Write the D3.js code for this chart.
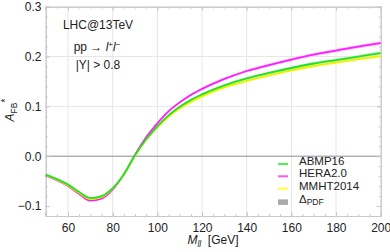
<!DOCTYPE html>
<html>
<head>
<meta charset="utf-8">
<script src="https://cdn.jsdelivr.net/npm/d3@7"></script>
<style>
  body { margin: 0; background: #fff; }
  text { font-family: "Liberation Sans", Arial, sans-serif; fill: #222; }
</style>
</head>
<body>
<div id="chart"></div>
<script>
const W = 390, H = 252;

// invariant mass of the lepton pair [GeV]
const mass = [50, 55, 60, 65, 70, 75, 80, 85, 90, 95, 100, 105, 110, 115, 120, 130, 140, 150, 160, 170, 180, 190, 200];
const abmp16 = [-0.037, -0.046, -0.057, -0.072, -0.084, -0.080, -0.064, -0.036, 0.002, 0.034, 0.060, 0.082, 0.099, 0.113, 0.124, 0.142, 0.156, 0.167, 0.177, 0.186, 0.193, 0.200, 0.207];
const hera20 = [-0.039, -0.048, -0.060, -0.076, -0.089, -0.085, -0.067, -0.037, 0.003, 0.038, 0.066, 0.090, 0.108, 0.123, 0.135, 0.155, 0.171, 0.183, 0.194, 0.204, 0.212, 0.220, 0.227];
const mmht2014 = [-0.038, -0.047, -0.059, -0.074, -0.086, -0.082, -0.065, -0.037, 0.001, 0.033, 0.058, 0.079, 0.096, 0.109, 0.120, 0.138, 0.151, 0.162, 0.172, 0.181, 0.188, 0.195, 0.201];
// half width of the PDF uncertainty band
const pdfErr = [0.0015, 0.0015, 0.0015, 0.0015, 0.0015, 0.0015, 0.0015, 0.0015, 0.0015, 0.0018, 0.002, 0.002, 0.0022, 0.0024, 0.0025, 0.0026, 0.0027, 0.0028, 0.003, 0.003, 0.0032, 0.0033, 0.0035];

const xTicks = [60, 80, 100, 120, 140, 160, 180, 200];
const yTicks = [-0.1, 0.0, 0.1, 0.2, 0.3];

const series = [
  {name: "HERA2.0", values: hera20, line: "#ff1cff", band: "#ffb8ff", key: "#ff55ff"},
  {name: "MMHT2014", values: mmht2014, line: "#eeee00", band: "#ffffa8", key: "#ffff33"},
  {name: "ABMP16", values: abmp16, line: "#22e022", band: "#b4f5b4", key: "#55ee55"}
];
const legendOrder = ["ABMP16", "HERA2.0", "MMHT2014"];

const x = d3.scaleLinear().domain([50, 200]).range([45.7, 380.7]);
const y = d3.scaleLinear().domain([-0.12, 0.3]).range([216, 6.7]);

const svg = d3.select("#chart").append("svg")
  .attr("width", W)
  .attr("height", H);

const frame = "#c8c8c8";

// grid
svg.append("g").selectAll("line")
  .data(xTicks.filter((t) => t < 200))
  .enter().append("line")
  .attr("x1", (d) => x(d)).attr("x2", (d) => x(d))
  .attr("y1", y.range()[0]).attr("y2", y.range()[1])
  .attr("stroke", "#e6e6e6").attr("stroke-width", 1);
svg.append("g").selectAll("line")
  .data([0.1, 0.2])
  .enter().append("line")
  .attr("x1", x.range()[0]).attr("x2", x.range()[1])
  .attr("y1", (d) => y(d)).attr("y2", (d) => y(d))
  .attr("stroke", "#e6e6e6").attr("stroke-width", 1);

// zero line
svg.append("line")
  .attr("x1", x.range()[0]).attr("x2", x.range()[1])
  .attr("y1", y(0)).attr("y2", y(0))
  .attr("stroke", "#8a8a8a").attr("stroke-width", 1);

// frame axes with inward ticks
function frameAxis(axisFn, scale, tx, ty, major, minor, labels) {
  const g = svg.append("g").attr("transform", `translate(${tx},${ty})`);
  g.call(axisFn(scale).tickValues(minor).tickSize(-2).tickFormat(""));
  g.append("g").call(axisFn(scale).tickValues(major).tickSize(-4).tickFormat(labels ? labels : ""));
  g.selectAll("path").attr("stroke", frame);
  g.selectAll("line").attr("stroke", frame);
  g.selectAll("text").attr("fill", "#222").style("font-size", "12px");
  return g;
}
const xMinor = d3.range(50, 201, 5);
const yMinor = d3.range(-0.12, 0.301, 0.02);
const xMajor = [50, ...xTicks];
frameAxis(d3.axisBottom, x, 0, y.range()[0], xMajor, xMinor, (d) => (d === 50 ? "" : d))
  .selectAll("text").attr("dy", "1.05em");
frameAxis(d3.axisTop, x, 0, y.range()[1], xMajor, xMinor, null);
frameAxis(d3.axisLeft, y, x.range()[0], 0, yTicks, yMinor, (d) => d3.format(".1f")(d).replace("-", "\u2212"))
  .selectAll("text").attr("dx", "-0.1em");
frameAxis(d3.axisRight, y, x.range()[1], 0, yTicks, yMinor, null);

// bands and curves
const area = d3.area()
  .x((d) => x(d.m))
  .y0((d) => y(d.v - d.e))
  .y1((d) => y(d.v + d.e))
  .curve(d3.curveMonotoneX);
const line = d3.line()
  .x((d) => x(d.m))
  .y((d) => y(d.v))
  .curve(d3.curveMonotoneX);

series.forEach((s) => {
  const pts = mass.map((m, i) => ({m: m, v: s.values[i], e: pdfErr[i]}));
  svg.append("path").datum(pts)
    .attr("d", area)
    .attr("fill", s.band)
    .attr("opacity", 0.8);
});
series.forEach((s) => {
  const pts = mass.map((m, i) => ({m: m, v: s.values[i], e: pdfErr[i]}));
  svg.append("path").datum(pts)
    .attr("d", line)
    .attr("fill", "none")
    .attr("stroke", s.line)
    .attr("stroke-width", 1.8);
});

// annotation
const note = svg.append("g").style("font-size", "12px").attr("text-anchor", "middle");
note.append("text").attr("x", 98).attr("y", 29).text("LHC@13TeV");
const pp = note.append("text").attr("x", 97).attr("y", 50.5);
pp.append("tspan").text("pp \u2192 ");
pp.append("tspan").style("font-style", "italic").text("l");
pp.append("tspan").attr("dy", -4).style("font-size", "8px").text("+");
pp.append("tspan").attr("dy", 4).style("font-style", "italic").text("l");
pp.append("tspan").attr("dy", -4).style("font-size", "8px").text("\u2212");
note.append("text").attr("x", 98).attr("y", 69).text("|Y| > 0.8");

// axis titles
const yl = svg.append("text")
  .attr("transform", "translate(14,110) rotate(-90)")
  .attr("text-anchor", "middle")
  .style("font-size", "12px");
yl.append("tspan").style("font-style", "italic").text("A");
yl.append("tspan").attr("dy", 3).style("font-size", "8.5px").text("FB");
yl.append("tspan").attr("dy", -8).style("font-size", "10px").text("*");

const xl = svg.append("text")
  .attr("x", 213).attr("y", 244)
  .attr("text-anchor", "middle")
  .style("font-size", "12px");
xl.append("tspan").style("font-style", "italic").text("M");
xl.append("tspan").attr("dy", 3).style("font-size", "8.5px").style("font-style", "italic").text("ll");
xl.append("tspan").attr("dy", -3).text("\u00a0\u00a0[GeV]");

// legend
const legend = svg.append("g").attr("transform", "translate(278,165)");
legendOrder.forEach((name, i) => {
  const s = series.find((d) => d.name === name);
  const row = legend.append("g").attr("transform", `translate(0,${i * 12.3})`);
  row.append("line").attr("x1", 0).attr("x2", 10).attr("y1", -1).attr("y2", -1)
    .attr("stroke", s.key).attr("stroke-width", 2);
  row.append("text").attr("x", 21).attr("y", 0).style("font-size", "11.5px").text(name);
});
const pdfRow = legend.append("g").attr("transform", `translate(0,${3 * 12.3 + 2})`);
pdfRow.append("rect").attr("x", 0).attr("y", -4.5).attr("width", 10).attr("height", 5.5).attr("fill", "#aaaaaa");
const dl = pdfRow.append("text").attr("x", 21).attr("y", -1).style("font-size", "11.5px");
dl.append("tspan").text("\u0394");
dl.append("tspan").attr("dy", 2.5).style("font-size", "8.5px").text("PDF");
</script>
</body>
</html>
